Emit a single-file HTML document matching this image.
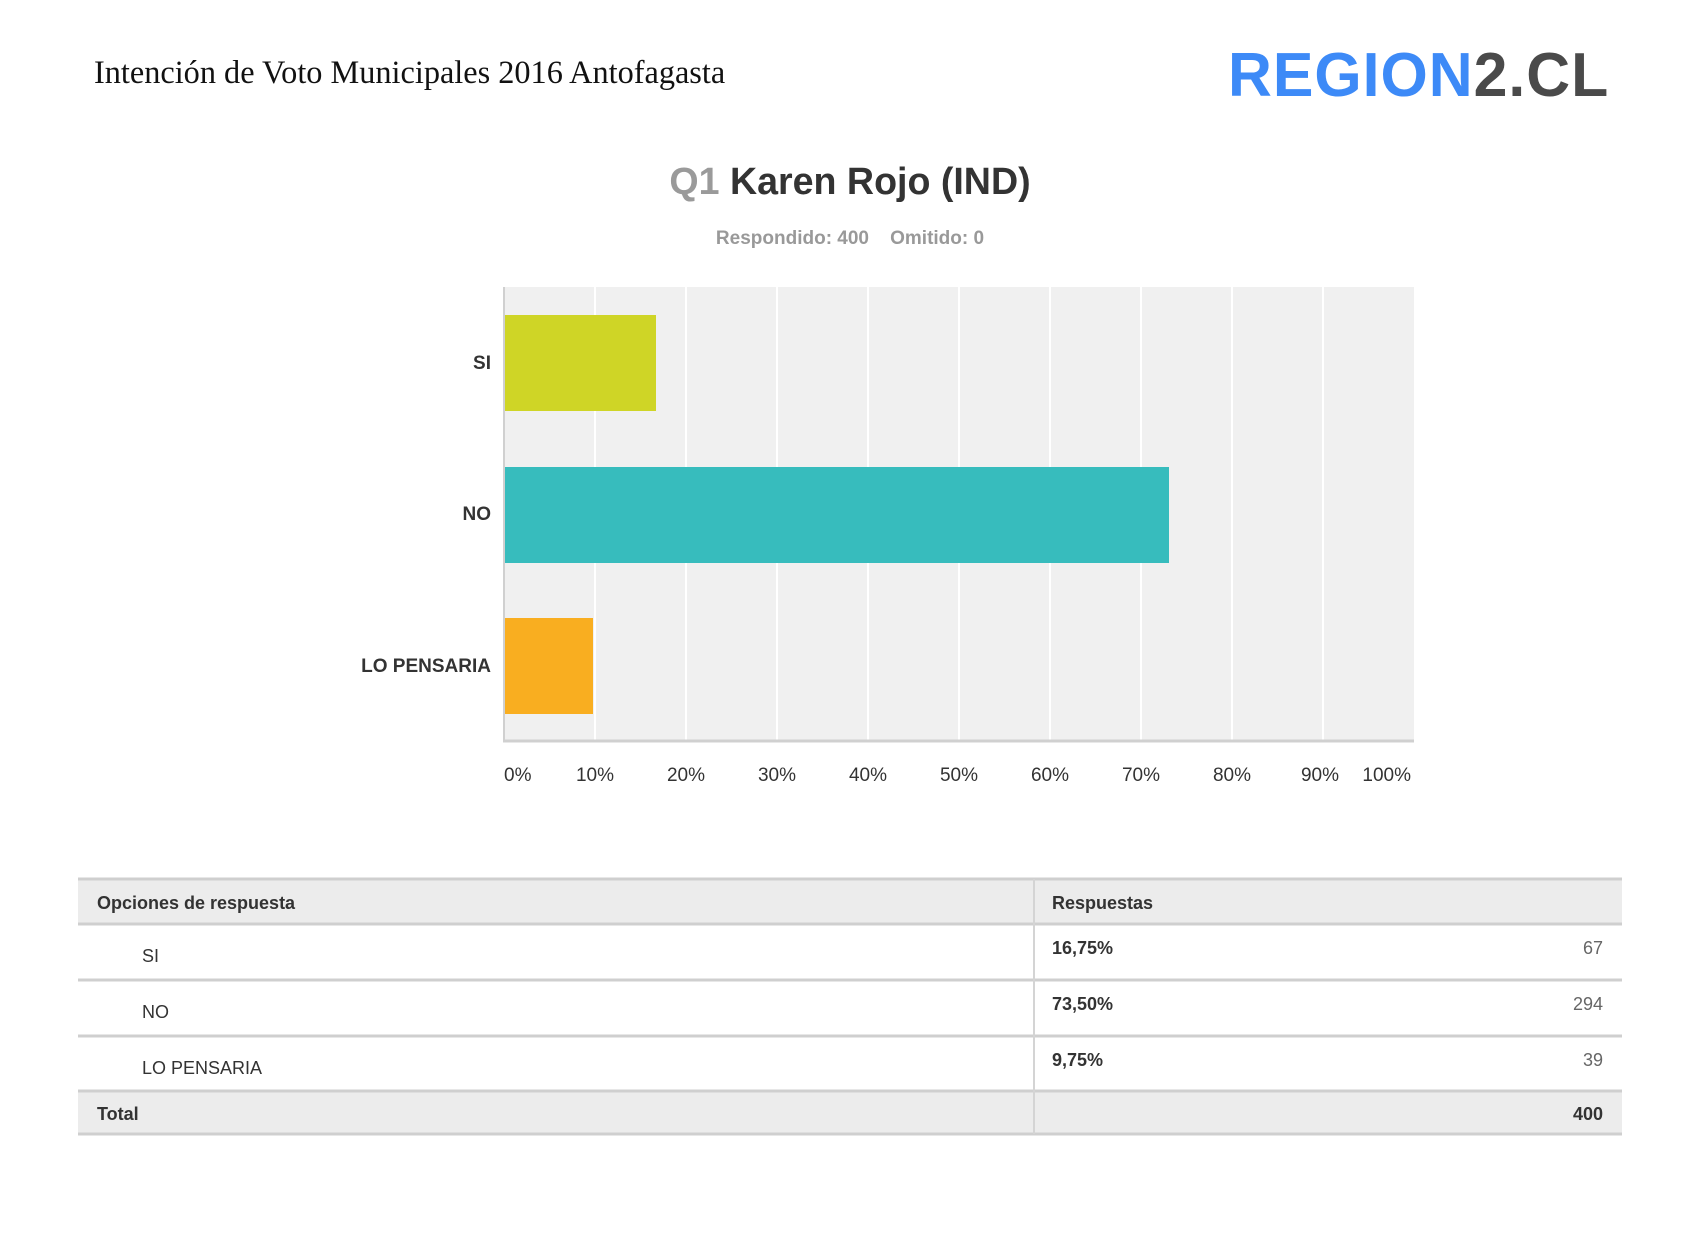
<!DOCTYPE html>
<html><head><meta charset="utf-8"><style>
body{margin:0;width:1700px;height:1244px;background:#fff;position:relative;overflow:hidden;font-family:"Liberation Sans",sans-serif}
.a{position:absolute;white-space:nowrap}
</style></head><body>
<div class="a" style="left:94px;top:54px;font-family:'Liberation Serif',serif;font-size:32.3px;color:#111">Intención de Voto Municipales 2016 Antofagasta</div>
<div class="a" style="left:1228px;top:41px;font-size:62px;font-weight:bold;letter-spacing:1px;line-height:70px;transform:scaleX(0.98);transform-origin:left"><span style="color:#3d8af7">REGION</span><span style="color:#4a4a4a">2.CL</span></div>
<div class="a" style="left:0;width:1700px;text-align:center;top:160px;font-size:37.6px;font-weight:bold;color:#333"><span style="color:#9a9a9a">Q1</span> Karen Rojo (IND)</div>
<div class="a" style="left:0;width:1700px;text-align:center;top:228px;font-size:19px;font-weight:bold;color:#999">Respondido: 400&nbsp;&nbsp;&nbsp;&nbsp;Omitido: 0</div>
<svg class="a" style="left:0;top:0" width="1700" height="1244">
<rect x="504" y="287" width="910" height="453" fill="#f0f0f0"/>
<g stroke="#fff" stroke-width="2">
<line x1="595" y1="287" x2="595" y2="740"/><line x1="686" y1="287" x2="686" y2="740"/><line x1="777" y1="287" x2="777" y2="740"/><line x1="868" y1="287" x2="868" y2="740"/><line x1="959" y1="287" x2="959" y2="740"/><line x1="1050" y1="287" x2="1050" y2="740"/><line x1="1141" y1="287" x2="1141" y2="740"/><line x1="1232" y1="287" x2="1232" y2="740"/><line x1="1323" y1="287" x2="1323" y2="740"/></g>
<rect x="504" y="315" width="152" height="96" fill="#cfd526"/>
<rect x="504" y="467" width="665" height="96" fill="#37bcbd"/>
<rect x="504" y="618" width="89" height="96" fill="#f9ae20"/>
<line x1="504" y1="287" x2="504" y2="741" stroke="#d0d0d0" stroke-width="2"/>
<line x1="503" y1="741" x2="1414" y2="741" stroke="#d0d0d0" stroke-width="3"/>
<g font-family="Liberation Sans" font-size="19" font-weight="bold" fill="#333" text-anchor="end">
<text x="491" y="369">SI</text><text x="491" y="520">NO</text><text x="491" y="672">LO PENSARIA</text></g>
<g font-family="Liberation Sans" font-size="19" fill="#333" text-anchor="middle">
<text x="504" y="781" text-anchor="start">0%</text><text x="595" y="781">10%</text><text x="686" y="781">20%</text><text x="777" y="781">30%</text><text x="868" y="781">40%</text><text x="959" y="781">50%</text><text x="1050" y="781">60%</text><text x="1141" y="781">70%</text><text x="1232" y="781">80%</text><text x="1320" y="781">90%</text><text x="1411" y="781" text-anchor="end">100%</text></g>
<rect x="78" y="878" width="1544" height="46" fill="#ececec"/>
<rect x="78" y="1090" width="1544" height="44" fill="#ececec"/>
<g stroke="#cfcfcf" stroke-width="3">
<line x1="78" y1="879" x2="1622" y2="879"/><line x1="78" y1="924" x2="1622" y2="924"/><line x1="78" y1="980" x2="1622" y2="980"/><line x1="78" y1="1036" x2="1622" y2="1036"/><line x1="78" y1="1091" x2="1622" y2="1091"/><line x1="78" y1="1134" x2="1622" y2="1134"/></g>
<line x1="1034" y1="879" x2="1034" y2="1134" stroke="#d4d4d4" stroke-width="2"/>
<g font-family="Liberation Sans" font-size="18" fill="#333">
<text x="97" y="909" font-weight="bold">Opciones de respuesta</text><text x="1052" y="909" font-weight="bold">Respuestas</text>
<text x="142" y="962">SI</text><text x="142" y="1018">NO</text><text x="142" y="1074">LO PENSARIA</text>
<g font-weight="bold"><text x="1052" y="954">16,75%</text><text x="1052" y="1010">73,50%</text><text x="1052" y="1066">9,75%</text></g>
<g text-anchor="end" fill="#666"><text x="1603" y="954">67</text><text x="1603" y="1010">294</text><text x="1603" y="1066">39</text></g>
<text x="97" y="1120" font-weight="bold">Total</text><text x="1603" y="1120" font-weight="bold" text-anchor="end">400</text></g>
</svg>
</body></html>
